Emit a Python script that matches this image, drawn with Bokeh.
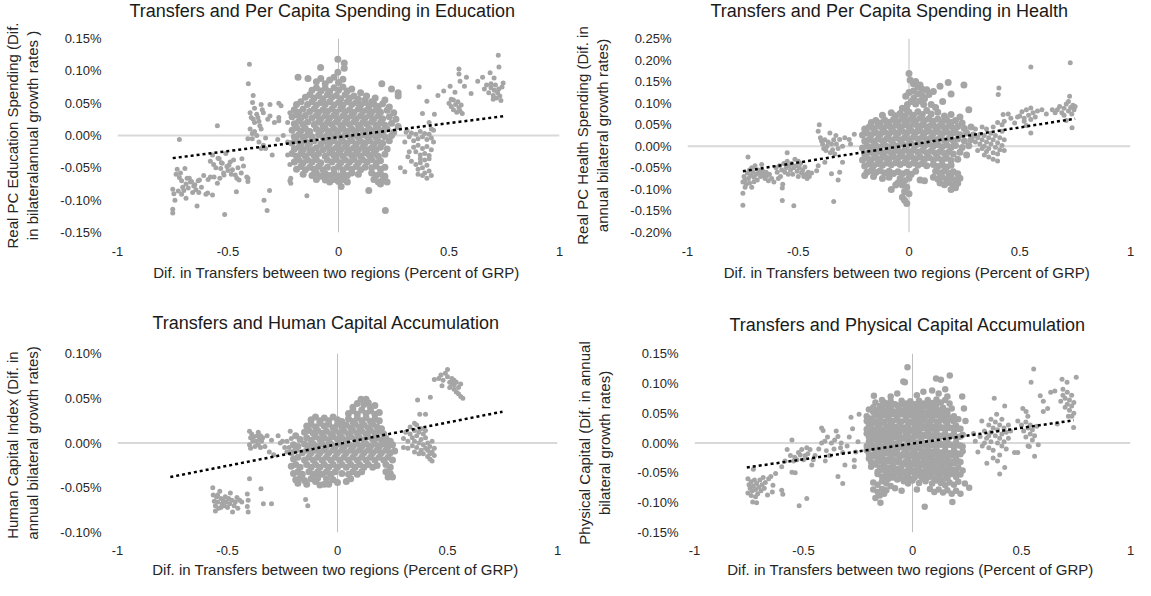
from bokeh.plotting import figure
from bokeh.models import Range1d, FixedTicker, PrintfTickFormatter, CustomJSTickFormatter, Span, Title
from bokeh.layouts import column, row
from bokeh.embed import file_html
from bokeh.resources import INLINE

# ---------------- DATA (x: transfer difference, y: growth difference in %) ----------------
x_ticks = [-1, -0.5, 0, 0.5, 1]
x_label = "Dif. in Transfers between two regions  (Percent of GRP)"

# Panel 1: Education
edu_title = "Transfers and Per Capita Spending in Education"
edu_ylabel = "Real PC Education Spending (Dif.\nin bilateralannual growth rates )"
edu_yticks = [-0.15, -0.10, -0.05, 0.0, 0.05, 0.10, 0.15]
edu_trend_x = [-0.75, 0.75]
edu_trend_y = [-0.035, 0.030]
edu_far_left = [(-0.75,-0.120),(-0.75,-0.114),(-0.75,-0.083),(-0.745,-0.090),(-0.74,-0.100),(-0.735,-0.060),(-0.73,-0.052),(-0.725,-0.086),(-0.72,-0.006),(-0.72,-0.065),(-0.715,-0.058),(-0.71,-0.070),(-0.71,-0.091),(-0.705,-0.080),(-0.70,-0.085),(-0.695,-0.051),(-0.69,-0.075),(-0.69,-0.097),(-0.685,-0.066),(-0.68,-0.081),(-0.675,-0.066),(-0.67,-0.072),(-0.665,-0.071),(-0.66,-0.088),(-0.655,-0.078),(-0.65,-0.076),(-0.645,-0.084),(-0.64,-0.109),(-0.635,-0.070),(-0.632,-0.088),(-0.629,-0.069),(-0.62,-0.080),(-0.61,-0.062),(-0.60,-0.091),(-0.592,-0.089),(-0.58,-0.064),(-0.57,-0.092),(-0.563,-0.064)]
edu_left = [(-0.548,0.015),(-0.59,-0.068),(-0.58,-0.040),(-0.57,-0.030),(-0.565,-0.045),(-0.555,-0.050),(-0.548,-0.074),(-0.545,-0.035),(-0.54,-0.036),(-0.537,-0.066),(-0.533,-0.051),(-0.53,-0.042),(-0.526,-0.043),(-0.52,-0.058),(-0.518,-0.061),(-0.515,-0.122),(-0.51,-0.028),(-0.505,-0.048),(-0.50,-0.054),(-0.496,-0.046),(-0.49,-0.041),(-0.485,-0.060),(-0.48,-0.053),(-0.475,-0.038),(-0.467,-0.061),(-0.462,-0.087),(-0.46,-0.066),(-0.455,-0.050),(-0.45,-0.069),(-0.44,-0.058),(-0.437,-0.036),(-0.43,-0.047),(-0.415,-0.064),(-0.41,-0.071),(-0.41,-0.066)]
edu_mid_left = [(-0.403,0.110),(-0.408,0.080),(-0.386,0.062),(-0.389,0.051),(-0.40,0.035),(-0.395,0.028),(-0.386,0.025),(-0.38,0.020),(-0.37,0.033),(-0.365,0.028),(-0.356,0.015),(-0.35,0.048),(-0.345,0.040),(-0.34,0.035),(-0.40,0.010),(-0.39,-0.005),(-0.39,0.003),(-0.38,0.006),(-0.37,0.000),(-0.36,-0.010),(-0.35,0.010),(-0.34,-0.015),(-0.33,-0.020),(-0.33,-0.004),(-0.32,0.025),(-0.31,0.048),(-0.31,0.030),(-0.30,-0.030),(-0.29,0.020),(-0.275,-0.006),(-0.27,0.050),(-0.27,0.028),(-0.27,0.023),(-0.26,0.046),(-0.25,0.000),(-0.337,-0.100),(-0.323,-0.116),(-0.312,-0.085),(-0.41,-0.005),(-0.38,0.042),(-0.36,0.022),(-0.35,-0.020),(-0.22,-0.070),(-0.216,-0.066),(-0.216,-0.074),(-0.143,-0.093),(-0.22,-0.045),(-0.23,-0.030),(-0.23,0.020),(-0.22,0.035),(-0.23,-0.010)]
edu_blob = [(-0.003,0.118),(0.026,0.112),(0.026,0.104),(-0.003,0.098),(-0.081,0.105),(-0.183,0.090),(-0.138,0.088),(0.196,0.080),(0.24,0.072),(0.27,0.066),(0.27,0.061),(0.10,0.066),(0.166,0.058),(0.127,0.061),
(-0.10,0.083),(-0.08,0.088),(-0.06,0.080),(-0.04,0.086),(-0.02,0.090),(0.00,0.082),(0.02,0.087),
(-0.12,0.070),(-0.10,0.074),(-0.08,0.069),(-0.06,0.073),(-0.04,0.068),(-0.02,0.074),(0.00,0.070),(0.02,0.075),(0.04,0.069),(0.06,0.072),
(-0.15,0.059),(-0.13,0.063),(-0.11,0.058),(-0.09,0.062),(-0.07,0.057),(-0.05,0.063),(-0.03,0.059),(-0.01,0.062),(0.01,0.057),(0.03,0.063),(0.05,0.058),(0.07,0.061),(0.09,0.056),(0.12,0.055),(0.15,0.052),(0.21,0.055),
(-0.19,0.048),(-0.17,0.052),(-0.14,0.048),(-0.12,0.052),(-0.10,0.047),(-0.08,0.051),(-0.06,0.048),(-0.04,0.052),(-0.02,0.047),(0.00,0.051),(0.02,0.047),(0.04,0.052),(0.06,0.048),(0.08,0.051),(0.10,0.047),(0.12,0.051),(0.14,0.046),(0.16,0.049),(0.18,0.045),(0.20,0.049),(0.23,0.044),
(-0.20,0.040),(-0.18,0.036),(-0.16,0.041),(-0.13,0.037),(-0.11,0.041),(-0.09,0.036),(-0.07,0.040),(-0.05,0.037),(-0.03,0.041),(-0.01,0.036),(0.01,0.041),(0.03,0.037),(0.05,0.040),(0.07,0.036),(0.09,0.041),(0.11,0.037),(0.13,0.040),(0.15,0.036),(0.17,0.040),(0.19,0.036),(0.22,0.039),(0.25,0.035),
(-0.21,0.029),(-0.19,0.032),(-0.17,0.027),(-0.15,0.031),(-0.12,0.027),(-0.10,0.031),(-0.08,0.026),(-0.06,0.030),(-0.04,0.027),(-0.02,0.031),(0.00,0.026),(0.02,0.030),(0.04,0.027),(0.06,0.031),(0.08,0.026),(0.10,0.030),(0.12,0.027),(0.14,0.031),(0.16,0.026),(0.18,0.030),(0.20,0.026),(0.23,0.029),(0.26,0.025),
(-0.20,0.018),(-0.18,0.022),(-0.16,0.017),(-0.14,0.021),(-0.11,0.017),(-0.09,0.021),(-0.07,0.016),(-0.05,0.020),(-0.03,0.017),(-0.01,0.021),(0.01,0.016),(0.03,0.020),(0.05,0.017),(0.07,0.021),(0.09,0.016),(0.11,0.020),(0.13,0.017),(0.15,0.021),(0.17,0.016),(0.19,0.020),(0.21,0.016),(0.24,0.019),(0.27,0.014),
(-0.21,0.008),(-0.19,0.012),(-0.17,0.007),(-0.15,0.011),(-0.13,0.006),(-0.10,0.010),(-0.08,0.007),(-0.06,0.011),(-0.04,0.006),(-0.02,0.010),(0.00,0.007),(0.02,0.011),(0.04,0.006),(0.06,0.010),(0.08,0.007),(0.10,0.011),(0.12,0.006),(0.14,0.010),(0.16,0.007),(0.18,0.011),(0.20,0.006),(0.22,0.010),(0.25,0.005),
(-0.20,-0.002),(-0.18,0.001),(-0.16,-0.003),(-0.14,0.001),(-0.12,-0.002),(-0.09,0.001),(-0.07,-0.003),(-0.05,0.001),(-0.03,-0.002),(-0.01,0.001),(0.01,-0.003),(0.03,0.001),(0.05,-0.002),(0.07,0.001),(0.09,-0.003),(0.11,0.001),(0.13,-0.002),(0.15,0.001),(0.17,-0.003),(0.19,0.001),(0.21,-0.002),(0.24,0.000),
(-0.21,-0.012),(-0.19,-0.008),(-0.17,-0.013),(-0.15,-0.009),(-0.13,-0.012),(-0.11,-0.008),(-0.08,-0.013),(-0.06,-0.009),(-0.04,-0.012),(-0.02,-0.008),(0.00,-0.013),(0.02,-0.009),(0.04,-0.012),(0.06,-0.008),(0.08,-0.013),(0.10,-0.009),(0.12,-0.012),(0.14,-0.008),(0.16,-0.013),(0.18,-0.009),(0.20,-0.012),(0.23,-0.008),
(-0.20,-0.021),(-0.18,-0.018),(-0.16,-0.022),(-0.14,-0.018),(-0.12,-0.022),(-0.10,-0.019),(-0.07,-0.022),(-0.05,-0.018),(-0.03,-0.022),(-0.01,-0.019),(0.01,-0.022),(0.03,-0.018),(0.05,-0.022),(0.07,-0.019),(0.09,-0.022),(0.11,-0.018),(0.13,-0.022),(0.15,-0.019),(0.17,-0.022),(0.19,-0.018),(0.22,-0.021),
(-0.21,-0.028),(-0.19,-0.032),(-0.17,-0.028),(-0.15,-0.032),(-0.13,-0.027),(-0.11,-0.031),(-0.09,-0.028),(-0.06,-0.032),(-0.04,-0.027),(-0.02,-0.031),(0.00,-0.028),(0.02,-0.032),(0.04,-0.027),(0.06,-0.031),(0.08,-0.028),(0.10,-0.032),(0.12,-0.027),(0.14,-0.031),(0.16,-0.028),(0.18,-0.032),(0.21,-0.029),
(-0.20,-0.041),(-0.18,-0.038),(-0.16,-0.042),(-0.14,-0.038),(-0.12,-0.041),(-0.10,-0.037),(-0.08,-0.042),(-0.05,-0.038),(-0.03,-0.041),(-0.01,-0.037),(0.01,-0.042),(0.03,-0.038),(0.05,-0.041),(0.07,-0.037),(0.09,-0.042),(0.11,-0.038),(0.13,-0.041),(0.15,-0.037),(0.17,-0.042),(0.19,-0.039),
(-0.19,-0.052),(-0.17,-0.048),(-0.15,-0.053),(-0.13,-0.049),(-0.11,-0.052),(-0.09,-0.048),(-0.07,-0.053),(-0.05,-0.049),(-0.02,-0.052),(0.00,-0.048),(0.02,-0.053),(0.04,-0.049),(0.06,-0.052),(0.08,-0.048),(0.10,-0.053),(0.12,-0.049),(0.15,-0.050),(0.17,-0.047),(0.19,-0.052),(0.21,-0.049),
(-0.16,-0.060),(-0.12,-0.062),(-0.10,-0.058),(-0.08,-0.063),(-0.06,-0.059),(-0.04,-0.062),(-0.02,-0.058),(0.00,-0.063),(0.02,-0.059),(0.04,-0.062),(0.06,-0.058),(0.09,-0.060),(0.15,-0.058),(0.17,-0.062),(0.19,-0.059),(0.21,-0.063),
(-0.06,-0.069),(-0.04,-0.072),(-0.02,-0.068),(0.00,-0.071),(0.02,-0.068),(0.04,-0.072),(0.16,-0.068),(0.18,-0.072),(0.20,-0.069),(0.22,-0.072),(0.012,-0.079),(0.137,-0.085),(0.212,-0.116),(-0.10,-0.068),(0.19,-0.075)]
edu_right = [(0.306,0.005),(0.32,-0.002),(0.33,0.004),(0.34,-0.008),(0.35,0.002),(0.36,-0.005),(0.37,0.006),(0.38,-0.002),(0.39,0.003),(0.40,-0.006),(0.41,0.002),(0.42,-0.004),(0.43,0.008),(0.34,-0.018),(0.35,-0.025),(0.36,-0.015),(0.37,-0.030),(0.38,-0.020),(0.39,-0.028),(0.40,-0.017),(0.41,-0.031),(0.42,-0.022),(0.37,-0.036),(0.39,-0.038),(0.41,-0.036),(0.35,-0.045),(0.36,-0.052),(0.37,-0.042),(0.38,-0.050),(0.39,-0.058),(0.40,-0.046),(0.41,-0.055),(0.42,-0.062),(0.38,-0.062),(0.40,-0.066),(0.36,-0.060),(0.33,-0.040),(0.28,-0.050),(0.30,-0.056),(0.314,-0.033),(0.32,-0.025),(0.30,-0.010),(0.31,0.008),(0.365,0.075),(0.40,0.053),(0.38,0.034),(0.41,0.020),(0.434,0.033),(0.42,0.010),(0.43,-0.010)]
edu_upper_right = [(0.45,0.062),(0.476,0.069),(0.505,0.076),(0.527,0.067),(0.545,0.103),(0.545,0.095),(0.55,0.084),(0.57,0.076),(0.579,0.090),(0.60,0.065),(0.63,0.084),(0.652,0.090),(0.686,0.097),(0.704,0.089),(0.723,0.124),(0.726,0.106),(0.745,0.081),(0.50,0.050),(0.51,0.045),(0.52,0.055),(0.52,0.040),(0.53,0.048),(0.535,0.036),(0.54,0.052),(0.545,0.043),(0.55,0.038),(0.555,0.047),(0.56,0.034),(0.51,0.056),(0.66,0.072),(0.67,0.078),(0.68,0.066),(0.69,0.074),(0.70,0.062),(0.705,0.070),(0.71,0.078),(0.715,0.058),(0.72,0.066),(0.725,0.072),(0.73,0.061),(0.735,0.054),(0.74,0.075),(0.70,0.056),(0.69,0.080)]

# Panel 2: Health
hea_title = "Transfers and Per Capita Spending in Health"
hea_ylabel = "Real PC Health Spending (Dif. in\nannual bilateral growth rates)"
hea_yticks = [-0.20, -0.15, -0.10, -0.05, 0.0, 0.05, 0.10, 0.15, 0.20, 0.25]
hea_trend_x = [-0.75, 0.75]
hea_trend_y = [-0.058, 0.064]
hea_far_left = [(-0.727,-0.025),(-0.75,-0.083),(-0.75,-0.109),(-0.75,-0.137),(-0.745,-0.070),(-0.74,-0.078),(-0.74,-0.095),(-0.735,-0.088),(-0.73,-0.062),(-0.725,-0.075),(-0.72,-0.055),(-0.72,-0.085),(-0.715,-0.068),(-0.71,-0.050),(-0.71,-0.095),(-0.705,-0.060),(-0.70,-0.072),(-0.695,-0.045),(-0.69,-0.065),(-0.685,-0.078),(-0.68,-0.055),(-0.675,-0.062),(-0.67,-0.070),(-0.665,-0.042),(-0.66,-0.058),(-0.655,-0.066),(-0.65,-0.075),(-0.645,-0.060),(-0.64,-0.068),(-0.635,-0.080),(-0.63,-0.065),(-0.62,-0.075),(-0.61,-0.083),(-0.70,-0.082)]
hea_left = [(-0.60,-0.050),(-0.595,-0.060),(-0.59,-0.075),(-0.585,-0.045),(-0.58,-0.070),(-0.575,-0.055),(-0.572,-0.097),(-0.572,-0.126),(-0.57,-0.088),(-0.565,-0.040),(-0.56,-0.060),(-0.555,-0.050),(-0.55,-0.015),(-0.55,-0.035),(-0.545,-0.065),(-0.54,-0.045),(-0.535,-0.055),(-0.53,-0.040),(-0.525,-0.065),(-0.52,-0.138),(-0.52,-0.050),(-0.515,-0.030),(-0.51,-0.045),(-0.505,-0.058),(-0.50,-0.035),(-0.50,-0.070),(-0.495,-0.050),(-0.49,-0.040),(-0.485,-0.062),(-0.48,-0.055),(-0.475,-0.070),(-0.47,-0.048),(-0.465,-0.065),(-0.46,-0.075),(-0.455,-0.060),(-0.45,-0.070),(-0.44,-0.062)]
hea_mid_left = [(-0.405,0.050),(-0.41,0.035),(-0.395,0.012),(-0.40,0.020),(-0.39,0.005),(-0.385,-0.005),(-0.38,0.015),(-0.375,-0.010),(-0.37,0.000),(-0.365,0.010),(-0.357,0.031),(-0.355,-0.015),(-0.35,0.005),(-0.345,-0.008),(-0.34,0.015),(-0.335,-0.018),(-0.328,0.005),(-0.32,-0.005),(-0.313,0.016),(-0.30,0.000),(-0.27,0.016),(-0.264,0.005),(-0.247,0.028),(-0.35,-0.064),(-0.32,-0.078),(-0.34,-0.128),(-0.313,-0.060),(-0.30,-0.037),(-0.41,-0.045),(-0.417,-0.057),(-0.38,-0.037),(-0.29,0.020),(-0.33,0.025)]
hea_blob = [(0.00,0.169),(0.005,0.154),(0.02,0.145),(0.03,0.150),(0.04,0.138),(0.05,0.142),(0.06,0.132),(0.08,0.131),(0.14,0.139),(0.177,0.148),(0.248,0.142),(0.19,0.121),(0.152,0.104),(-0.015,0.116),(0.0,0.125),(0.02,0.128),(0.04,0.122),(0.06,0.118),(0.022,0.112),(0.07,0.110),(0.09,0.120),(0.11,0.127),(-0.007,0.097),(0.01,0.104),(0.03,0.098),(0.05,0.105),(0.066,0.097),(0.10,0.097),(0.12,0.090),(-0.03,0.088),(-0.01,0.085),
(-0.12,0.072),(-0.08,0.078),(-0.06,0.071),(-0.04,0.076),(-0.02,0.070),(0.00,0.079),(0.02,0.072),(0.04,0.080),(0.06,0.074),(0.08,0.083),(0.10,0.075),(0.13,0.079),(0.16,0.070),(0.19,0.074),(0.23,0.068),(0.27,0.085),
(-0.17,0.055),(-0.15,0.060),(-0.13,0.054),(-0.11,0.061),(-0.09,0.056),(-0.07,0.062),(-0.05,0.057),(-0.03,0.063),(-0.01,0.058),(0.01,0.064),(0.03,0.059),(0.05,0.065),(0.07,0.060),(0.09,0.064),(0.11,0.058),(0.13,0.063),(0.15,0.057),(0.17,0.061),(0.19,0.055),(0.21,0.060),(0.24,0.054),
(-0.20,0.040),(-0.18,0.045),(-0.16,0.041),(-0.14,0.047),(-0.12,0.042),(-0.10,0.048),(-0.08,0.043),(-0.06,0.049),(-0.04,0.044),(-0.02,0.050),(0.00,0.045),(0.02,0.051),(0.04,0.046),(0.06,0.050),(0.08,0.045),(0.10,0.049),(0.12,0.044),(0.14,0.048),(0.16,0.043),(0.18,0.047),(0.20,0.042),(0.22,0.046),(0.25,0.041),(0.28,0.045),
(-0.21,0.026),(-0.19,0.031),(-0.17,0.027),(-0.15,0.032),(-0.13,0.028),(-0.11,0.033),(-0.09,0.029),(-0.07,0.034),(-0.05,0.030),(-0.03,0.035),(-0.01,0.031),(0.01,0.036),(0.03,0.032),(0.05,0.036),(0.07,0.031),(0.09,0.035),(0.11,0.030),(0.13,0.034),(0.15,0.029),(0.17,0.033),(0.19,0.028),(0.21,0.032),(0.23,0.027),(0.26,0.031),(0.29,0.026),
(-0.20,0.012),(-0.18,0.016),(-0.16,0.011),(-0.14,0.017),(-0.12,0.013),(-0.10,0.018),(-0.08,0.014),(-0.06,0.019),(-0.04,0.015),(-0.02,0.020),(0.00,0.016),(0.02,0.021),(0.04,0.017),(0.06,0.021),(0.08,0.016),(0.10,0.020),(0.12,0.015),(0.14,0.019),(0.16,0.014),(0.18,0.018),(0.20,0.013),(0.22,0.017),(0.25,0.012),(0.28,0.015),
(-0.21,-0.004),(-0.19,0.001),(-0.17,-0.003),(-0.15,0.002),(-0.13,-0.002),(-0.11,0.003),(-0.09,-0.001),(-0.07,0.004),(-0.05,0.000),(-0.03,0.005),(-0.01,0.001),(0.01,0.006),(0.03,0.002),(0.05,0.006),(0.07,0.001),(0.09,0.005),(0.11,0.000),(0.13,0.004),(0.15,-0.001),(0.17,0.003),(0.19,-0.002),(0.21,0.002),(0.24,-0.003),(0.27,0.001),
(-0.20,-0.018),(-0.18,-0.013),(-0.16,-0.017),(-0.14,-0.012),(-0.12,-0.016),(-0.10,-0.011),(-0.08,-0.015),(-0.06,-0.010),(-0.04,-0.014),(-0.02,-0.009),(0.00,-0.013),(0.02,-0.009),(0.04,-0.014),(0.06,-0.010),(0.08,-0.015),(0.10,-0.011),(0.12,-0.016),(0.14,-0.012),(0.16,-0.017),(0.18,-0.013),(0.20,-0.018),(0.23,-0.014),(0.26,-0.020),
(-0.21,-0.032),(-0.19,-0.027),(-0.17,-0.031),(-0.15,-0.026),(-0.13,-0.030),(-0.11,-0.025),(-0.09,-0.029),(-0.07,-0.024),(-0.05,-0.028),(-0.03,-0.023),(-0.01,-0.028),(0.01,-0.024),(0.03,-0.029),(0.05,-0.025),(0.07,-0.030),(0.09,-0.026),(0.11,-0.031),(0.13,-0.027),(0.15,-0.032),(0.17,-0.028),(0.19,-0.033),(0.22,-0.030),
(-0.20,-0.046),(-0.18,-0.041),(-0.16,-0.045),(-0.14,-0.040),(-0.12,-0.044),(-0.10,-0.039),(-0.08,-0.043),(-0.06,-0.038),(-0.04,-0.042),(-0.02,-0.038),(0.00,-0.043),(0.02,-0.039),(0.04,-0.044),(0.06,-0.040),(0.08,-0.045),(0.11,-0.042),(0.13,-0.047),(0.15,-0.043),(0.17,-0.048),(0.19,-0.044),
(-0.19,-0.060),(-0.17,-0.056),(-0.15,-0.061),(-0.13,-0.057),(-0.11,-0.062),(-0.09,-0.058),(-0.07,-0.063),(-0.05,-0.059),(-0.03,-0.064),(-0.01,-0.060),(0.01,-0.065),(0.03,-0.058),(0.12,-0.058),(0.14,-0.062),(0.16,-0.057),(0.18,-0.063),(0.20,-0.059),(0.22,-0.064),
(0.11,-0.072),(0.13,-0.076),(0.15,-0.071),(0.17,-0.077),(0.19,-0.072),(0.21,-0.078),(0.23,-0.074),(0.14,-0.085),(0.16,-0.089),(0.18,-0.084),(0.20,-0.090),(0.22,-0.086),(0.19,-0.100),(0.21,-0.096),(0.07,-0.080),(0.05,-0.078),
(-0.04,-0.075),(-0.02,-0.080),(0.00,-0.074),(-0.03,-0.090),(-0.01,-0.095),(-0.02,-0.105),(0.0,-0.110),(-0.03,-0.118),(-0.02,-0.125),(-0.01,-0.133),(-0.05,-0.085),(-0.09,-0.072),(-0.12,-0.075),(-0.16,-0.070),(-0.20,-0.068),(-0.08,-0.100),(-0.06,-0.090)]
hea_right = [(0.30,0.010),(0.31,0.020),(0.32,0.005),(0.32,0.028),(0.33,-0.005),(0.33,0.015),(0.34,0.025),(0.34,0.000),(0.35,-0.012),(0.35,0.010),(0.36,0.020),(0.36,-0.005),(0.37,0.030),(0.37,0.005),(0.38,-0.015),(0.38,0.015),(0.39,0.025),(0.39,-0.002),(0.40,0.008),(0.40,-0.018),(0.41,0.020),(0.41,-0.008),(0.42,0.035),(0.42,0.002),(0.43,0.015),(0.43,-0.010),(0.36,-0.025),(0.38,-0.030),(0.40,-0.034),(0.34,-0.020),(0.31,-0.010),(0.35,0.040),(0.38,0.045),(0.40,0.055),(0.42,0.050),(0.43,0.058),(0.30,0.040),(0.33,0.045)]
hea_upper_right = [(0.406,0.135),(0.403,0.120),(0.425,0.074),(0.448,0.075),(0.477,0.054),(0.46,0.065),(0.49,0.068),(0.50,0.070),(0.51,0.080),(0.52,0.065),(0.53,0.085),(0.54,0.072),(0.55,0.062),(0.55,0.089),(0.56,0.078),(0.57,0.068),(0.58,0.082),(0.55,0.184),(0.55,0.031),(0.52,0.058),(0.53,0.048),(0.60,0.085),(0.62,0.075),(0.647,0.085),(0.66,0.078),(0.67,0.085),(0.68,0.092),(0.69,0.078),(0.70,0.088),(0.71,0.098),(0.72,0.082),(0.725,0.116),(0.72,0.104),(0.728,0.194),(0.73,0.090),(0.735,0.075),(0.736,0.043),(0.74,0.095),(0.745,0.085),(0.75,0.092),(0.70,0.072),(0.71,0.060)]

# Panel 3: Human capital
hum_title = "Transfers and Human Capital Accumulation"
hum_ylabel = "Human Capital Index  (Dif. in\nannual bilateral growth rates)"
hum_yticks = [-0.10, -0.05, 0.0, 0.05, 0.10]
hum_trend_x = [-0.76, 0.75]
hum_trend_y = [-0.038, 0.035]
hum_low_left = [(-0.567,-0.050),(-0.565,-0.058),(-0.56,-0.065),(-0.555,-0.070),(-0.55,-0.060),(-0.545,-0.066),(-0.54,-0.073),(-0.535,-0.054),(-0.53,-0.062),(-0.525,-0.068),(-0.52,-0.064),(-0.515,-0.070),(-0.51,-0.060),(-0.505,-0.066),(-0.50,-0.072),(-0.495,-0.062),(-0.49,-0.068),(-0.487,-0.056),(-0.48,-0.064),(-0.477,-0.077),(-0.47,-0.070),(-0.465,-0.066),(-0.457,-0.061),(-0.453,-0.073),(-0.445,-0.064),(-0.435,-0.066),(-0.41,-0.057),(-0.40,-0.040),(-0.406,-0.064),(-0.41,-0.071),(-0.406,-0.077),(-0.348,-0.051),(-0.337,-0.068),(-0.30,-0.068),(-0.145,-0.063),(-0.135,-0.070),(-0.555,-0.076),(-0.53,-0.072),(-0.545,-0.058)]
hum_left = [(-0.40,0.013),(-0.395,0.006),(-0.39,0.010),(-0.385,0.002),(-0.38,0.007),(-0.375,-0.004),(-0.37,0.002),(-0.365,0.008),(-0.36,-0.002),(-0.355,0.004),(-0.35,-0.005),(-0.345,0.002),(-0.34,0.006),(-0.40,-0.002),(-0.395,-0.006),(-0.33,-0.004),(-0.32,0.008),(-0.30,0.003),(-0.27,0.008),(-0.26,0.000),(-0.25,0.002),(-0.31,-0.010),(-0.29,-0.013),(-0.24,-0.005),(-0.23,0.002),(-0.23,-0.010),(-0.36,0.012),(-0.35,0.008),(-0.21,0.005),(-0.22,-0.005),(-0.215,0.013)]
hum_blob = [(0.07,0.040),(0.09,0.044),(0.107,0.049),(0.13,0.049),(0.12,0.043),(0.14,0.045),(0.15,0.040),(0.17,0.042),
(0.05,0.033),(0.07,0.036),(0.09,0.032),(0.11,0.037),(0.13,0.033),(0.15,0.036),(0.17,0.032),(0.19,0.034),
(-0.12,0.026),(-0.10,0.029),(-0.08,0.025),(-0.06,0.028),(-0.04,0.025),(-0.02,0.029),(0.00,0.026),(0.02,0.024),(0.05,0.027),(0.07,0.024),(0.09,0.028),(0.11,0.025),(0.13,0.028),(0.15,0.024),(0.17,0.027),(0.19,0.025),
(-0.14,0.019),(-0.12,0.021),(-0.10,0.018),(-0.08,0.022),(-0.06,0.019),(-0.04,0.021),(-0.02,0.017),(0.00,0.021),(0.02,0.018),(0.04,0.020),(0.06,0.017),(0.08,0.021),(0.10,0.018),(0.12,0.020),(0.14,0.017),(0.16,0.021),(0.18,0.018),(0.20,0.016),
(-0.15,0.012),(-0.13,0.014),(-0.11,0.011),(-0.09,0.014),(-0.07,0.011),(-0.05,0.013),(-0.03,0.010),(-0.01,0.014),(0.01,0.011),(0.03,0.013),(0.05,0.010),(0.07,0.014),(0.09,0.011),(0.11,0.013),(0.13,0.010),(0.15,0.014),(0.17,0.011),(0.19,0.013),(0.21,0.010),
(-0.19,0.008),(-0.17,0.004),(-0.14,0.006),(-0.12,0.003),(-0.10,0.007),(-0.08,0.004),(-0.06,0.006),(-0.04,0.003),(-0.02,0.007),(0.00,0.004),(0.02,0.006),(0.04,0.003),(0.06,0.007),(0.08,0.004),(0.10,0.006),(0.12,0.003),(0.14,0.007),(0.16,0.004),(0.18,0.006),(0.20,0.003),(0.22,0.005),(0.24,0.002),
(-0.20,-0.002),(-0.18,-0.004),(-0.15,-0.001),(-0.13,-0.004),(-0.11,-0.001),(-0.09,-0.004),(-0.07,-0.001),(-0.05,-0.004),(-0.03,-0.001),(-0.01,-0.004),(0.01,-0.001),(0.03,-0.004),(0.05,-0.001),(0.07,-0.004),(0.09,-0.001),(0.11,-0.004),(0.13,-0.001),(0.15,-0.004),(0.17,-0.001),(0.19,-0.004),(0.21,-0.001),(0.23,-0.004),(0.25,-0.002),
(-0.21,-0.011),(-0.19,-0.008),(-0.16,-0.011),(-0.14,-0.008),(-0.12,-0.011),(-0.10,-0.008),(-0.08,-0.011),(-0.06,-0.008),(-0.04,-0.011),(-0.02,-0.008),(0.00,-0.011),(0.02,-0.008),(0.04,-0.011),(0.06,-0.008),(0.08,-0.011),(0.10,-0.008),(0.12,-0.011),(0.14,-0.008),(0.16,-0.011),(0.18,-0.008),(0.20,-0.011),(0.22,-0.008),(0.24,-0.011),(0.26,-0.009),
(-0.20,-0.018),(-0.18,-0.016),(-0.15,-0.019),(-0.13,-0.016),(-0.11,-0.019),(-0.09,-0.016),(-0.07,-0.019),(-0.05,-0.016),(-0.03,-0.019),(-0.01,-0.016),(0.01,-0.019),(0.03,-0.016),(0.05,-0.019),(0.07,-0.016),(0.09,-0.019),(0.11,-0.016),(0.13,-0.019),(0.15,-0.016),(0.17,-0.019),(0.19,-0.016),(0.21,-0.019),(0.23,-0.016),(0.25,-0.019),
(-0.21,-0.026),(-0.19,-0.024),(-0.17,-0.027),(-0.14,-0.024),(-0.12,-0.027),(-0.10,-0.024),(-0.08,-0.027),(-0.06,-0.024),(-0.04,-0.027),(-0.02,-0.024),(0.00,-0.027),(0.02,-0.024),(0.04,-0.027),(0.06,-0.024),(0.08,-0.027),(0.10,-0.024),(0.12,-0.027),(0.14,-0.024),(0.16,-0.027),(0.18,-0.025),(0.22,-0.024),(0.24,-0.027),
(-0.20,-0.034),(-0.18,-0.032),(-0.16,-0.035),(-0.13,-0.032),(-0.11,-0.035),(-0.09,-0.032),(-0.07,-0.035),(-0.05,-0.032),(-0.03,-0.035),(-0.01,-0.032),(0.02,-0.034),(0.05,-0.035),(0.07,-0.032),(0.09,-0.035),(0.11,-0.032),(0.22,-0.032),(0.24,-0.034),(0.23,-0.038),(0.25,-0.038),
(-0.19,-0.041),(-0.17,-0.039),(-0.15,-0.042),(-0.12,-0.040),(-0.10,-0.043),(-0.08,-0.047),(-0.06,-0.046),(-0.04,-0.046),(-0.02,-0.041),(0.00,-0.044),(0.04,-0.043),(0.06,-0.040),(-0.09,-0.039),(-0.05,-0.040),(-0.14,-0.046),(-0.18,-0.045)]
hum_right = [(0.30,0.005),(0.31,0.012),(0.32,0.002),(0.33,0.010),(0.33,0.018),(0.34,0.006),(0.34,-0.003),(0.35,0.014),(0.35,0.002),(0.36,0.020),(0.36,0.008),(0.36,-0.005),(0.37,0.012),(0.37,0.000),(0.38,0.016),(0.38,-0.008),(0.38,0.004),(0.39,0.010),(0.39,-0.002),(0.39,-0.012),(0.40,0.006),(0.40,-0.006),(0.40,0.014),(0.41,-0.015),(0.41,0.000),(0.41,-0.008),(0.42,-0.004),(0.42,-0.012),(0.42,-0.018),(0.43,-0.010),(0.43,-0.020),(0.44,-0.014),(0.44,-0.006),(0.37,-0.012),(0.35,-0.010),(0.32,-0.006),(0.30,-0.005),(0.364,0.048),(0.422,0.051),(0.374,0.032),(0.40,0.032),(0.35,0.022),(0.43,0.002)]
hum_top_right = [(0.44,0.071),(0.46,0.072),(0.47,0.076),(0.475,0.064),(0.48,0.070),(0.49,0.078),(0.50,0.082),(0.50,0.074),(0.51,0.068),(0.51,0.062),(0.52,0.066),(0.52,0.072),(0.53,0.060),(0.53,0.065),(0.53,0.070),(0.54,0.057),(0.54,0.068),(0.55,0.055),(0.55,0.062),(0.56,0.052),(0.56,0.066),(0.57,0.050)]

# Panel 4: Physical capital
phy_title = "Transfers and Physical Capital Accumulation"
phy_ylabel = "Physical Capital (Dif. in annual\nbilateral growth rates)"
phy_yticks = [-0.15, -0.10, -0.05, 0.0, 0.05, 0.10, 0.15]
phy_trend_x = [-0.76, 0.74]
phy_trend_y = [-0.041, 0.038]
phy_far_left = [(-0.73,-0.044),(-0.755,-0.060),(-0.755,-0.084),(-0.75,-0.070),(-0.745,-0.076),(-0.74,-0.065),(-0.735,-0.080),(-0.733,-0.099),(-0.73,-0.072),(-0.725,-0.062),(-0.72,-0.078),(-0.715,-0.100),(-0.715,-0.068),(-0.71,-0.085),(-0.705,-0.074),(-0.70,-0.062),(-0.695,-0.080),(-0.69,-0.070),(-0.685,-0.058),(-0.68,-0.076),(-0.675,-0.066),(-0.665,-0.087),(-0.66,-0.060),(-0.65,-0.056),(-0.643,-0.082),(-0.64,-0.071),(-0.628,-0.051),(-0.60,-0.079),(-0.595,-0.086),(-0.52,-0.105),(-0.485,-0.093),(-0.72,-0.090),(-0.74,-0.088)]
phy_left = [(-0.553,0.005),(-0.575,-0.011),(-0.56,-0.021),(-0.54,-0.024),(-0.523,-0.016),(-0.508,-0.011),(-0.492,-0.021),(-0.485,-0.008),(-0.47,-0.011),(-0.553,-0.049),(-0.538,-0.050),(-0.462,-0.037),(-0.447,-0.021),(-0.417,0.000),(-0.417,0.025),(-0.41,0.021),(-0.402,0.003),(-0.395,-0.013),(-0.38,-0.021),(-0.372,0.000),(-0.357,0.005),(-0.342,0.011),(-0.327,0.000),(-0.33,-0.008),(-0.32,-0.016),(-0.342,-0.056),(-0.32,-0.068),(-0.31,-0.037),(-0.267,-0.040),(-0.267,-0.029),(-0.275,0.024),(-0.282,0.043),(-0.245,0.048),(-0.545,-0.030),(-0.53,-0.028),(-0.515,-0.020),(-0.50,-0.028),(-0.48,-0.018),(-0.455,-0.028),(-0.43,-0.010),(-0.40,-0.030),(-0.39,0.010),(-0.36,-0.010),(-0.35,0.020),(-0.30,-0.005),(-0.29,0.010),(-0.26,-0.015),(-0.25,0.002),(-0.585,-0.030),(-0.60,-0.040)]
phy_blob = [(-0.023,0.127),(-0.042,0.103),(-0.035,0.102),(0.108,0.108),(0.13,0.106),(0.171,0.113),(0.056,-0.107),(0.183,-0.099),(-0.147,-0.100),(-0.177,0.079),(0.228,0.078),(0.236,0.058),(0.243,0.037),
(-0.10,0.078),(-0.07,0.083),(0.02,0.080),(0.05,0.086),(0.09,0.088),(0.12,0.083),(0.15,0.090),(0.16,0.078),(-0.13,0.068),
(-0.17,0.068),(-0.14,0.072),(-0.12,0.066),(-0.10,0.070),(-0.08,0.065),(-0.05,0.071),(-0.03,0.066),(-0.01,0.070),(0.01,0.065),(0.03,0.071),(0.05,0.066),(0.07,0.072),(0.09,0.067),(0.11,0.073),(0.13,0.068),(0.15,0.072),(0.17,0.066),
(-0.20,0.056),(-0.18,0.060),(-0.16,0.055),(-0.14,0.059),(-0.12,0.054),(-0.10,0.058),(-0.08,0.053),(-0.06,0.058),(-0.04,0.054),(-0.02,0.059),(0.00,0.055),(0.02,0.060),(0.04,0.056),(0.06,0.061),(0.08,0.056),(0.10,0.060),(0.12,0.055),(0.14,0.059),(0.16,0.054),(0.18,0.058),
(-0.21,0.045),(-0.19,0.041),(-0.17,0.046),(-0.15,0.042),(-0.13,0.047),(-0.11,0.043),(-0.09,0.048),(-0.07,0.044),(-0.05,0.048),(-0.03,0.043),(-0.01,0.047),(0.01,0.042),(0.03,0.046),(0.05,0.041),(0.07,0.046),(0.09,0.042),(0.11,0.047),(0.13,0.043),(0.15,0.047),(0.17,0.042),(0.19,0.045),(0.21,0.040),
(-0.20,0.030),(-0.18,0.034),(-0.16,0.029),(-0.14,0.033),(-0.12,0.028),(-0.10,0.032),(-0.08,0.027),(-0.06,0.031),(-0.04,0.026),(-0.02,0.030),(0.00,0.034),(0.02,0.029),(0.04,0.033),(0.06,0.028),(0.08,0.032),(0.10,0.027),(0.12,0.031),(0.14,0.026),(0.16,0.030),(0.18,0.025),(0.20,0.029),(0.22,0.024),
(-0.21,0.016),(-0.19,0.020),(-0.17,0.015),(-0.15,0.019),(-0.13,0.014),(-0.11,0.018),(-0.09,0.013),(-0.07,0.017),(-0.05,0.021),(-0.03,0.016),(-0.01,0.020),(0.01,0.015),(0.03,0.019),(0.05,0.014),(0.07,0.018),(0.09,0.013),(0.11,0.017),(0.13,0.012),(0.15,0.016),(0.17,0.011),(0.19,0.015),(0.21,0.010),(0.23,0.014),
(-0.20,0.002),(-0.18,0.006),(-0.16,0.001),(-0.14,0.005),(-0.12,0.000),(-0.10,0.004),(-0.08,-0.001),(-0.06,0.003),(-0.04,0.007),(-0.02,0.002),(0.00,0.006),(0.02,0.001),(0.04,0.005),(0.06,0.000),(0.08,0.004),(0.10,-0.001),(0.12,0.003),(0.14,-0.002),(0.16,0.002),(0.18,-0.003),(0.20,0.001),(0.22,-0.004),
(-0.21,-0.012),(-0.19,-0.008),(-0.17,-0.013),(-0.15,-0.009),(-0.13,-0.014),(-0.11,-0.010),(-0.09,-0.015),(-0.07,-0.011),(-0.05,-0.007),(-0.03,-0.012),(-0.01,-0.008),(0.01,-0.013),(0.03,-0.009),(0.05,-0.014),(0.07,-0.010),(0.09,-0.015),(0.11,-0.011),(0.13,-0.016),(0.15,-0.012),(0.17,-0.017),(0.19,-0.013),(0.21,-0.018),(0.23,-0.014),
(-0.20,-0.026),(-0.18,-0.022),(-0.16,-0.027),(-0.14,-0.023),(-0.12,-0.028),(-0.10,-0.024),(-0.08,-0.029),(-0.06,-0.025),(-0.04,-0.021),(-0.02,-0.026),(0.00,-0.022),(0.02,-0.027),(0.04,-0.023),(0.06,-0.028),(0.08,-0.024),(0.10,-0.029),(0.12,-0.025),(0.14,-0.030),(0.16,-0.026),(0.18,-0.031),(0.20,-0.027),(0.22,-0.032),
(-0.19,-0.040),(-0.17,-0.036),(-0.15,-0.041),(-0.13,-0.037),(-0.11,-0.042),(-0.09,-0.038),(-0.07,-0.043),(-0.05,-0.039),(-0.03,-0.035),(-0.01,-0.040),(0.01,-0.036),(0.03,-0.041),(0.05,-0.037),(0.07,-0.042),(0.09,-0.038),(0.11,-0.043),(0.13,-0.039),(0.15,-0.044),(0.17,-0.040),(0.19,-0.045),(0.21,-0.041),(0.23,-0.046),
(-0.16,-0.052),(-0.14,-0.056),(-0.12,-0.051),(-0.10,-0.055),(-0.08,-0.050),(-0.06,-0.054),(-0.04,-0.049),(-0.02,-0.053),(0.00,-0.048),(0.02,-0.052),(0.04,-0.057),(0.06,-0.051),(0.08,-0.056),(0.10,-0.050),(0.12,-0.055),(0.14,-0.051),(0.16,-0.056),(0.18,-0.052),(0.20,-0.057),(0.22,-0.053),
(-0.18,-0.066),(-0.16,-0.070),(-0.14,-0.064),(-0.12,-0.068),(-0.10,-0.072),(-0.04,-0.064),(-0.02,-0.068),(0.00,-0.063),(0.03,-0.067),(0.06,-0.064),(0.09,-0.068),(0.11,-0.063),(0.13,-0.067),(0.15,-0.071),(0.17,-0.066),(0.19,-0.070),(0.21,-0.065),(0.24,-0.068),
(-0.18,-0.078),(-0.16,-0.082),(-0.14,-0.077),(-0.15,-0.088),(-0.13,-0.085),(-0.17,-0.092),(-0.12,-0.079),(-0.08,-0.076),(-0.05,-0.080),(0.02,-0.078),(0.08,-0.077),(0.10,-0.082),(0.12,-0.078),(0.14,-0.083),(0.16,-0.079),(0.18,-0.085),(0.20,-0.080),(0.22,-0.085),(0.26,-0.075)]
phy_blob_core = [(-0.15,0.062),(-0.13,0.064),(-0.11,0.062),(-0.09,0.065),(-0.07,0.063),(-0.05,0.065),(-0.03,0.062),(-0.01,0.064),(0.01,0.062),(0.03,0.065),(0.05,0.063),(0.07,0.065),(0.09,0.062),(0.11,0.064),
(-0.18,0.052),(-0.16,0.049),(-0.14,0.052),(-0.12,0.050),(-0.10,0.052),(-0.08,0.049),(-0.06,0.051),(-0.04,0.049),(-0.02,0.052),(0.00,0.050),(0.02,0.052),(0.04,0.049),(0.06,0.051),(0.08,0.049),(0.10,0.052),(0.12,0.050),(0.14,0.052),(0.16,0.049),
(-0.21,0.037),(-0.19,0.039),(-0.17,0.036),(-0.15,0.038),(-0.13,0.036),(-0.11,0.039),(-0.09,0.037),(-0.07,0.039),(-0.05,0.036),(-0.03,0.038),(-0.01,0.036),(0.01,0.039),(0.03,0.037),(0.05,0.039),(0.07,0.036),(0.09,0.038),(0.11,0.036),(0.13,0.039),(0.15,0.037),(0.17,0.039),(0.19,0.036),
(-0.21,0.023),(-0.19,0.025),(-0.17,0.022),(-0.15,0.024),(-0.13,0.022),(-0.11,0.025),(-0.09,0.023),(-0.07,0.025),(-0.05,0.022),(-0.03,0.024),(-0.01,0.022),(0.01,0.025),(0.03,0.023),(0.05,0.025),(0.07,0.022),(0.09,0.024),(0.11,0.022),(0.13,0.025),(0.15,0.023),(0.17,0.025),(0.19,0.022),(0.21,0.024),
(-0.20,0.010),(-0.18,0.012),(-0.16,0.009),(-0.14,0.011),(-0.12,0.009),(-0.10,0.012),(-0.08,0.010),(-0.06,0.012),(-0.04,0.009),(-0.02,0.011),(0.00,0.009),(0.02,0.012),(0.04,0.010),(0.06,0.012),(0.08,0.009),(0.10,0.011),(0.12,0.009),(0.14,0.012),(0.16,0.010),(0.18,0.012),(0.20,0.009),(0.22,0.011),
(-0.21,-0.005),(-0.19,-0.003),(-0.17,-0.006),(-0.15,-0.004),(-0.13,-0.006),(-0.11,-0.003),(-0.09,-0.005),(-0.07,-0.003),(-0.05,-0.006),(-0.03,-0.004),(-0.01,-0.006),(0.01,-0.003),(0.03,-0.005),(0.05,-0.003),(0.07,-0.006),(0.09,-0.004),(0.11,-0.006),(0.13,-0.003),(0.15,-0.005),(0.17,-0.003),(0.19,-0.006),(0.21,-0.004),(0.23,-0.006),
(-0.20,-0.018),(-0.18,-0.020),(-0.16,-0.017),(-0.14,-0.019),(-0.12,-0.017),(-0.10,-0.020),(-0.08,-0.018),(-0.06,-0.020),(-0.04,-0.017),(-0.02,-0.019),(0.00,-0.017),(0.02,-0.020),(0.04,-0.018),(0.06,-0.020),(0.08,-0.017),(0.10,-0.019),(0.12,-0.017),(0.14,-0.020),(0.16,-0.018),(0.18,-0.020),(0.20,-0.017),(0.22,-0.019),
(-0.19,-0.032),(-0.17,-0.034),(-0.15,-0.031),(-0.13,-0.033),(-0.11,-0.031),(-0.09,-0.034),(-0.07,-0.032),(-0.05,-0.034),(-0.03,-0.031),(-0.01,-0.033),(0.01,-0.031),(0.03,-0.034),(0.05,-0.032),(0.07,-0.034),(0.09,-0.031),(0.11,-0.033),(0.13,-0.031),(0.15,-0.034),(0.17,-0.032),(0.19,-0.034),(0.21,-0.031),
(-0.16,-0.048),(-0.14,-0.045),(-0.12,-0.047),(-0.10,-0.045),(-0.08,-0.048),(-0.06,-0.046),(-0.04,-0.048),(-0.02,-0.045),(0.00,-0.047),(0.02,-0.045),(0.04,-0.048),(0.06,-0.046),(0.08,-0.048),(0.10,-0.045),(0.12,-0.047),(0.14,-0.045),(0.16,-0.048),(0.18,-0.046),(0.20,-0.048),
(-0.13,-0.058),(-0.11,-0.060),(-0.09,-0.058),(-0.07,-0.061),(-0.05,-0.059),(-0.03,-0.058),(-0.01,-0.060),(0.01,-0.058),(0.05,-0.060),(0.07,-0.058),(0.10,-0.060),(0.12,-0.058),(0.14,-0.061),(0.16,-0.059)]
phy_right = [(0.28,0.016),(0.288,0.003),(0.31,0.011),(0.318,0.037),(0.30,-0.015),(0.32,-0.005),(0.33,0.020),(0.341,-0.034),(0.34,0.008),(0.35,0.030),(0.35,-0.008),(0.36,0.018),(0.36,0.040),(0.36,0.002),(0.37,0.025),(0.37,-0.012),(0.375,0.075),(0.38,0.012),(0.38,0.035),(0.386,0.048),(0.39,0.000),(0.39,0.022),(0.40,0.030),(0.40,-0.052),(0.40,0.008),(0.40,-0.020),(0.41,0.015),(0.41,0.040),(0.41,-0.005),(0.42,0.025),(0.423,0.062),(0.423,-0.041),(0.42,0.002),(0.43,0.018),(0.43,-0.010),(0.44,0.030),(0.44,0.008),(0.468,-0.016),(0.483,0.037),(0.45,0.020),(0.39,-0.030),(0.37,-0.025),(0.35,0.012),(0.33,0.000)]
phy_upper_right = [(0.506,0.058),(0.521,0.053),(0.529,0.045),(0.50,0.030),(0.51,0.020),(0.52,0.035),(0.52,0.010),(0.53,0.025),(0.53,-0.005),(0.54,0.015),(0.54,0.030),(0.55,0.005),(0.55,0.022),(0.56,-0.022),(0.56,0.012),(0.57,0.028),(0.577,-0.003),(0.483,-0.016),(0.536,-0.006),(0.556,0.124),(0.544,0.102),(0.586,0.079),(0.60,0.053),(0.634,0.085),(0.653,0.087),(0.686,0.107),(0.709,0.102),(0.751,0.110),(0.739,0.026),(0.731,0.045),(0.664,0.032),(0.68,0.070),(0.69,0.080),(0.70,0.060),(0.70,0.075),(0.71,0.085),(0.71,0.065),(0.72,0.072),(0.72,0.055),(0.73,0.080),(0.73,0.062),(0.74,0.068),(0.74,0.050),(0.69,0.090),(0.715,0.045),(0.62,0.058),(0.60,0.070)]

# ---------------- STYLE ----------------
FONT = "Liberation Sans"
TEXT = "#262626"
DOT = "#a5a5a5"


def build(title, t_offset, t_standoff, t_two_line, ylabel, groups, blob, blob_size, trend_x, trend_y,
          yticks, ylo, yhi, width, height, bl, br, bt, bb, ylab_standoff, xtick_standoff, xlab_standoff):
    p = figure(width=width, height=height, x_range=Range1d(-1, 1), y_range=Range1d(ylo, yhi),
               output_backend="svg", toolbar_location=None,
               min_border_left=bl, min_border_right=br, min_border_top=bt, min_border_bottom=bb)
    p.outline_line_color = None
    p.grid.visible = False
    p.background_fill_color = "white"
    p.border_fill_color = "white"

    for ax in (p.xaxis[0], p.yaxis[0]):
        ax.axis_line_color = None
        ax.major_tick_line_color = None
        ax.minor_tick_line_color = None
        ax.major_label_text_font = FONT
        ax.major_label_text_font_size = "13px"
        ax.major_label_text_color = TEXT
        ax.axis_label_text_font = FONT
        ax.axis_label_text_font_size = "15px"
        ax.axis_label_text_font_style = "normal"
        ax.axis_label_text_color = TEXT

    p.xaxis.ticker = FixedTicker(ticks=x_ticks)
    p.xaxis.formatter = CustomJSTickFormatter(code="return tick.toString();")
    p.xaxis.axis_label = x_label
    p.xaxis.major_label_standoff = xtick_standoff
    p.xaxis.axis_label_standoff = xlab_standoff

    p.yaxis.ticker = FixedTicker(ticks=yticks)
    p.yaxis.formatter = PrintfTickFormatter(format="%.2f%%")
    p.yaxis.axis_label = ylabel
    p.yaxis.major_label_standoff = 10
    p.yaxis.axis_label_standoff = ylab_standoff

    p.add_layout(Span(location=0, dimension="width", line_color="#d9d9d9", line_width=2, level="underlay"))
    p.add_layout(Span(location=0, dimension="height", line_color="#bfbfbf", line_width=1, level="underlay"))

    xs, ys = [], []
    for g in groups:
        for x, y in g:
            xs.append(x)
            ys.append(y)
    bx, by = [], []
    for g in blob:
        for x, y in g:
            bx.append(x)
            by.append(y)
    p.scatter(bx, by, size=blob_size, fill_color=DOT, line_color=None)
    p.scatter(xs, ys, size=5, fill_color=DOT, line_color=None)
    p.line(trend_x, trend_y, line_color="black", line_width=2.5, line_dash="3 3")

    text = title + "\n " if t_two_line else title
    p.add_layout(Title(text=text, align="left", offset=t_offset, vertical_align="top",
                       standoff=t_standoff, text_font=FONT, text_font_size="18px",
                       text_line_height=0.8 if t_two_line else 1.0,
                       text_font_style="normal", text_color="#1a1a1a"), "above")
    return p


p1 = build(edu_title, 12, 0, True, edu_ylabel,
           [edu_far_left, edu_left, edu_mid_left, edu_right, edu_upper_right], [edu_blob], 7,
           edu_trend_x, edu_trend_y, edu_yticks, -0.15, 0.15,
           570, 292, 107, 11, 38, 58, 16, 8, 5)
p2 = build(hea_title, 23, 0, True, hea_ylabel,
           [hea_far_left, hea_left, hea_mid_left, hea_right, hea_upper_right], [hea_blob], 7,
           hea_trend_x, hea_trend_y, hea_yticks, -0.20, 0.25,
           565, 292, 117, 5, 36, 60, 16, 8, 5)
p3 = build(hum_title, 35, 37, False, hum_ylabel,
           [hum_low_left, hum_left, hum_right, hum_top_right], [hum_blob], 7,
           hum_trend_x, hum_trend_y, hum_yticks, -0.10, 0.10,
           570, 288, 105, 13, 61, 42, 16, 7, 3)
p4 = build(phy_title, 35, 34, False, phy_ylabel,
           [phy_far_left, phy_left, phy_right, phy_upper_right], [phy_blob, phy_blob_core], 6.5,
           phy_trend_x, phy_trend_y, phy_yticks, -0.15, 0.15,
           565, 288, 124, 5, 58, 42, 21, 7, 3)

layout = column(row(p1, p2), row(p3, p4))
open("out.html", "w").write(file_html(layout, INLINE))
